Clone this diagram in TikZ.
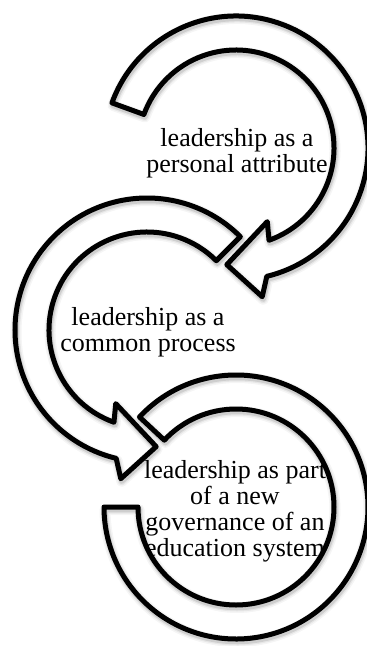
\documentclass[tikz,border=0pt]{standalone}
\usepackage{fontspec}
\setmainfont{Liberation Serif}
\tikzset{
  ringtext/.style={align=center, font=\fontsize{26pt}{26pt}\selectfont, inner sep=0pt},
  ringline/.style={draw=black, line width=5pt, line join=round},
}
% circular arrows, drawn around (0,0)
\newcommand{\firstarrow}{(160:132pt) arc[start angle=160, end angle=-76.5, radius=132pt]
  -- (-80:151pt) -- (-94.5:117pt) -- (-67:80pt) -- (-70.3:98pt)
  arc[start angle=-70.3, end angle=160, radius=98pt] -- cycle}
\newcommand{\secondarrow}{(45:132pt) arc[start angle=45, end angle=256.5, radius=132pt]
  -- (260:151pt) -- (274.5:117pt) -- (247:80pt) -- (250.3:98pt)
  arc[start angle=250.3, end angle=45, radius=98pt] -- cycle}
\newcommand{\lastarc}{(137:132pt) arc[start angle=137, end angle=-180, radius=132pt]
  -- (-180:98pt) arc[start angle=-180, end angle=137, radius=98pt] -- cycle}

\begin{document}
\begin{tikzpicture}[x=1pt,y=1pt]
\useasboundingbox (0,0) rectangle (367,-646);

% Centres
\coordinate (c1) at (236,-148);
\coordinate (c2) at (147,-330);
\coordinate (c3) at (236,-507);

% Texts
\node[ringtext] (attribute) at (237,-153) {leadership as a\\personal attribute};
\node[ringtext] (process) at (148,-332) {leadership as a\\common process};
\node[ringtext] (governance) at (235,-511) {leadership as part\\of a new\\governance of an\\education system};

% Arrows
\foreach \c/\arrowpath in {c1/\firstarrow, c2/\secondarrow, c3/\lastarc} {
  \begin{scope}[shift={(\c)}]
    \fill[white] \arrowpath;
    \foreach \w/\o in {11/0.04, 8/0.06, 5.5/0.1}
      \draw[black, opacity=\o, line width=\w pt, line join=round, shift={(1pt,-2.5pt)}] \arrowpath;
    \draw[ringline] \arrowpath;
  \end{scope}
}
\end{tikzpicture}
\end{document}
